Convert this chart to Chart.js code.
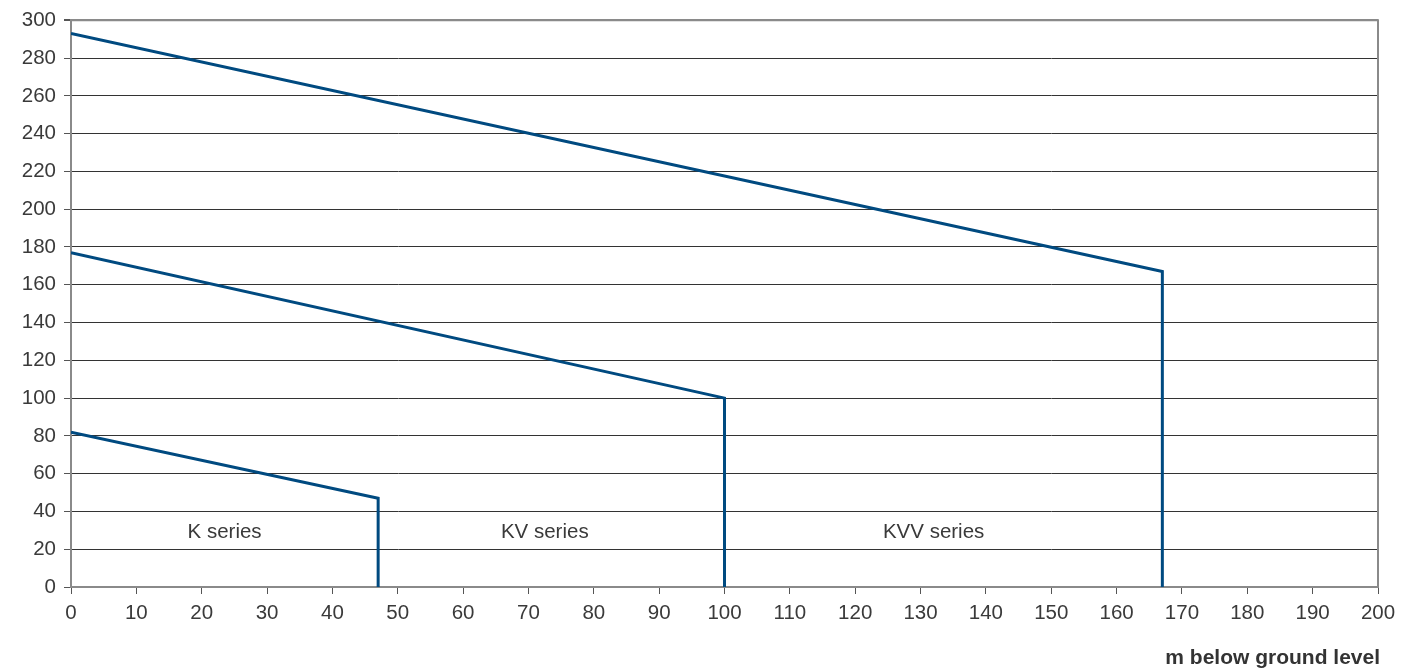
<!DOCTYPE html>
<html>
<head>
<meta charset="utf-8">
<script src="https://cdn.jsdelivr.net/npm/chart.js@4.4.0/dist/chart.umd.min.js"></script>
<style>
  html, body { margin: 0; padding: 0; background: #fff; }
  #wrap { width: 1414px; height: 670px; position: relative; }
</style>
</head>
<body>
<div id="wrap"><canvas id="chart"></canvas></div>
<script>
// depth (m below ground level) vs head, one polyline per pump series
const kDepth = [0, 47, 47];
const kHead = [82, 47, 0];
const kvDepth = [0, 100, 100];
const kvHead = [177, 100, 0];
const kvvDepth = [0, 167, 167];
const kvvHead = [293, 167, 0];

const seriesNames = ["K series", "KV series", "KVV series"];
const labelDepth = [23.5, 72.5, 132];
const labelHead = [29, 29, 29];

const xTitle = "m below ground level";

const lineColor = "#004a80";
const fontFamily = "'Liberation Sans', Arial, sans-serif";

function toPoints(xs, ys) {
  return xs.map((x, i) => ({ x: x, y: ys[i] }));
}

// draws the series names and the top/right frame
const extras = {
  id: "extras",
  afterDatasetsDraw(chart) {
    const ctx = chart.ctx;
    const xs = chart.scales.x;
    const ys = chart.scales.y;
    const area = chart.chartArea;
    ctx.save();
    ctx.strokeStyle = "#8a8a8a";
    ctx.lineWidth = 2;
    ctx.beginPath();
    ctx.moveTo(area.left, area.top);
    ctx.lineTo(area.right, area.top);
    ctx.lineTo(area.right, area.bottom);
    ctx.stroke();

    ctx.fillStyle = "#3a3a3a";
    ctx.font = "20.5px " + fontFamily;
    ctx.textAlign = "center";
    ctx.textBaseline = "middle";
    seriesNames.forEach((n, i) => {
      ctx.fillText(n, xs.getPixelForValue(labelDepth[i]), ys.getPixelForValue(labelHead[i]));
    });

    ctx.fillStyle = "#333";
    ctx.font = "bold 21px " + fontFamily;
    ctx.textAlign = "right";
    ctx.textBaseline = "middle";
    ctx.fillText(xTitle, area.right + 2, 658);
    ctx.restore();
  },
};

const ctx = document.getElementById("chart").getContext("2d");
const chart = new Chart(ctx, {
  type: "line",
  data: {
    datasets: [
      { label: seriesNames[0], data: toPoints(kDepth, kHead) },
      { label: seriesNames[1], data: toPoints(kvDepth, kvHead) },
      { label: seriesNames[2], data: toPoints(kvvDepth, kvvHead) },
    ].map((d) => ({
      ...d,
      borderColor: lineColor,
      borderWidth: 3,
      pointRadius: 0,
      fill: false,
      tension: 0,
      borderJoinStyle: "miter",
    })),
  },
  options: {
    responsive: true,
    maintainAspectRatio: false,
    animation: false,
    layout: { padding: { top: 19, right: 36, left: 0, bottom: 0 } },
    plugins: {
      legend: { display: false },
      tooltip: { enabled: false },
    },
    scales: {
      x: {
        type: "linear",
        min: 0,
        max: 200,
        ticks: {
          stepSize: 10,
          color: "#3a3a3a",
          font: { family: fontFamily, size: 20.5 },
          padding: 7,
          maxRotation: 0,
        },
        grid: {
          drawOnChartArea: false,
          drawTicks: true,
          tickLength: 7,
          color: "#555",
        },
        border: { color: "#8a8a8a", width: 2 },
        afterFit(scale) {
          scale.height = 83;
        },
      },
      y: {
        min: 0,
        max: 300,
        ticks: {
          stepSize: 20,
          color: "#3a3a3a",
          font: { family: fontFamily, size: 20.5 },
          padding: 8,
        },
        grid: {
          color: (c) => (c.tick && c.tick.value === 300 ? "#8a8a8a" : "#333"),
          lineWidth: (c) => (c.tick && c.tick.value === 300 ? 2 : 1),
          tickLength: 7,
          tickColor: "#555",
        },
        border: { color: "#8a8a8a", width: 2 },
        afterFit(scale) {
          scale.width = 71;
        },
      },
    },
  },
  plugins: [extras],
});
</script>
</body>
</html>
